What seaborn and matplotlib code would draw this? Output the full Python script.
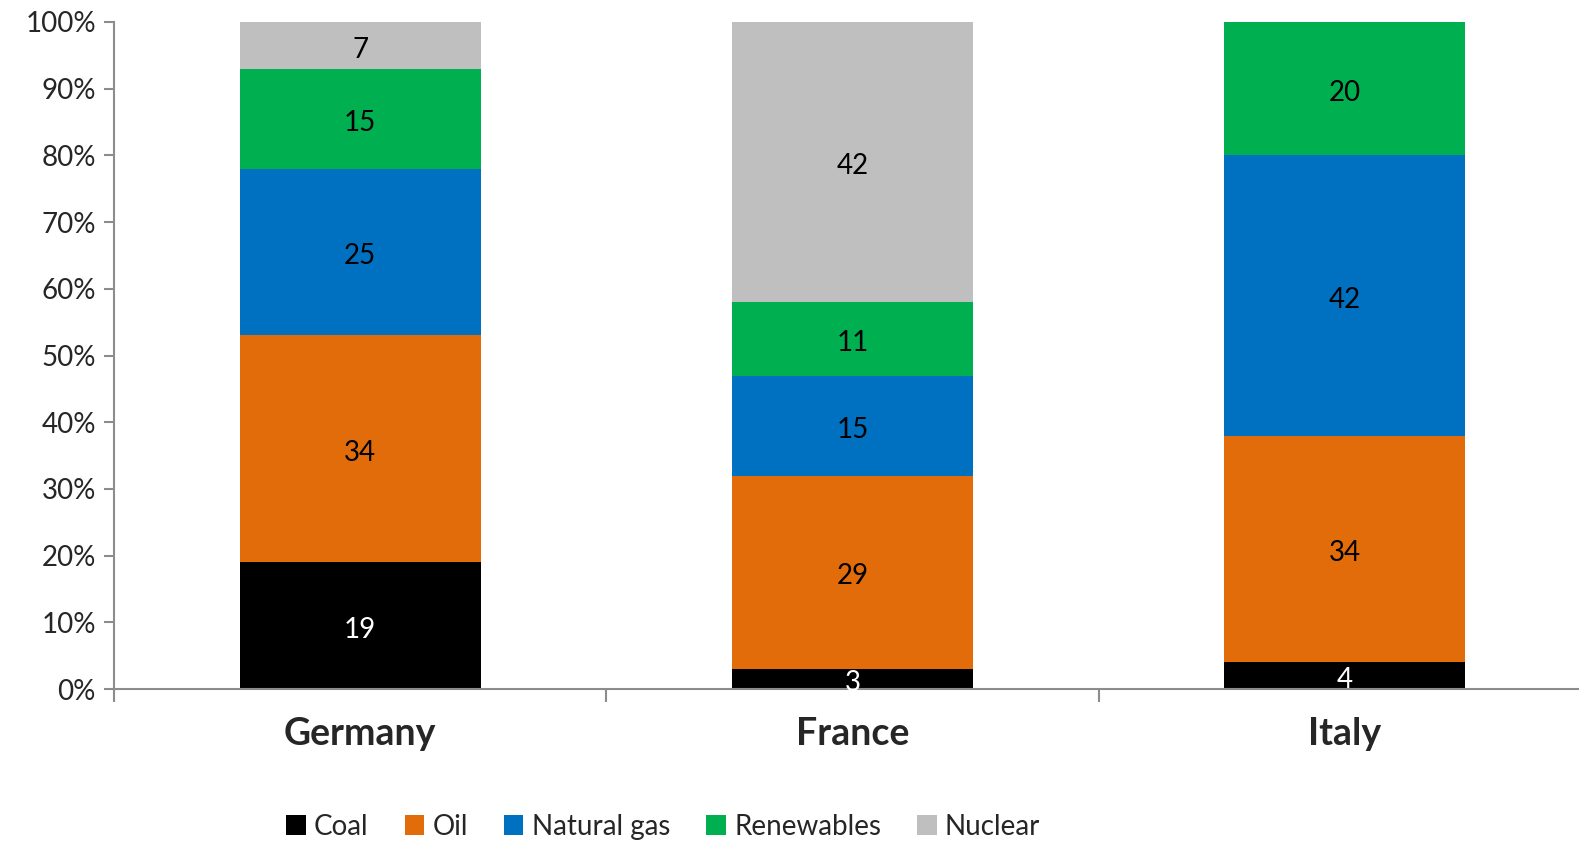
import matplotlib
matplotlib.use("Agg")
import matplotlib.pyplot as plt
import seaborn as sns
import pandas as pd
import numpy as np
from matplotlib.patches import Patch
from matplotlib.ticker import FixedLocator

countries = ["Germany", "France", "Italy"]
sources = ["Coal", "Oil", "Natural gas", "Renewables", "Nuclear"]
coal = [19, 3, 4]
oil = [34, 29, 34]
natural_gas = [25, 15, 42]
renewables = [15, 11, 20]
nuclear = [7, 42, 0]
colors = ["#000000", "#E36C0A", "#0070C0", "#00B050", "#BFBFBF"]
label_colors = ["white", "black", "black", "black", "black"]

sns.set_theme(style="white")
plt.rcParams["font.family"] = ["Lato", "DejaVu Sans"]

series = [coal, oil, natural_gas, renewables, nuclear]
cum = np.cumsum(np.array(series, dtype=float), axis=0)

fig = plt.figure(figsize=(15.79, 8.41), dpi=100)
ax = fig.add_axes([114/1579, 1-689/841, 1477/1579, (689-22)/841])

# draw from top cumulative to bottom so lower layers overlay
for i in range(len(sources)-1, -1, -1):
    df = pd.DataFrame({"country": countries, "value": cum[i]})
    sns.barplot(data=df, x="country", y="value", color=colors[i], width=0.49,
                saturation=1, ax=ax, linewidth=0, errorbar=None)

for i in range(len(sources)):
    for j, c in enumerate(countries):
        v = series[i][j]
        if v <= 0:
            continue
        mid = cum[i][j] - v/2
        ax.annotate(f"{v}", (j, mid), xytext=(0, -3), textcoords="offset points",
                    ha="center", va="center", fontsize=20, color=label_colors[i])

ax.set_xlim(-0.5, 2.5)
ax.set_ylim(0, 100)
ax.set_yticks(np.arange(0, 101, 10))
ax.set_yticklabels([f"{t}%" for t in range(0, 101, 10)], fontsize=20)
ax.set_xticks([0, 1, 2])
ax.set_xticklabels(countries, fontsize=27, fontweight="bold")
ax.xaxis.set_minor_locator(FixedLocator([-0.5, 0.5, 1.5, 2.5]))
ax.tick_params(axis="x", which="major", length=0, pad=20)
ax.tick_params(axis="x", which="minor", length=9, color="#8C8C8C", width=1.5, direction="out", bottom=True)
ax.tick_params(axis="y", which="major", length=7, color="#8C8C8C", width=1.5, direction="out", left=True, pad=6)
ax.set_xlabel("")
ax.set_ylabel("")
for s in ["top", "right"]:
    ax.spines[s].set_visible(False)
for s in ["left", "bottom"]:
    ax.spines[s].set_color("#8C8C8C")
    ax.spines[s].set_linewidth(1.5)

handles = [Patch(facecolor=colors[i], edgecolor="none", label=sources[i]) for i in range(len(sources))]
fig.legend(handles=handles, loc="center", bbox_to_anchor=(0.42, 0.017), ncol=5,
           frameon=False, fontsize=20, handlelength=0.7, handleheight=0.7,
           handletextpad=0.3, columnspacing=1.3)

fig.savefig("out.png", dpi=100)
